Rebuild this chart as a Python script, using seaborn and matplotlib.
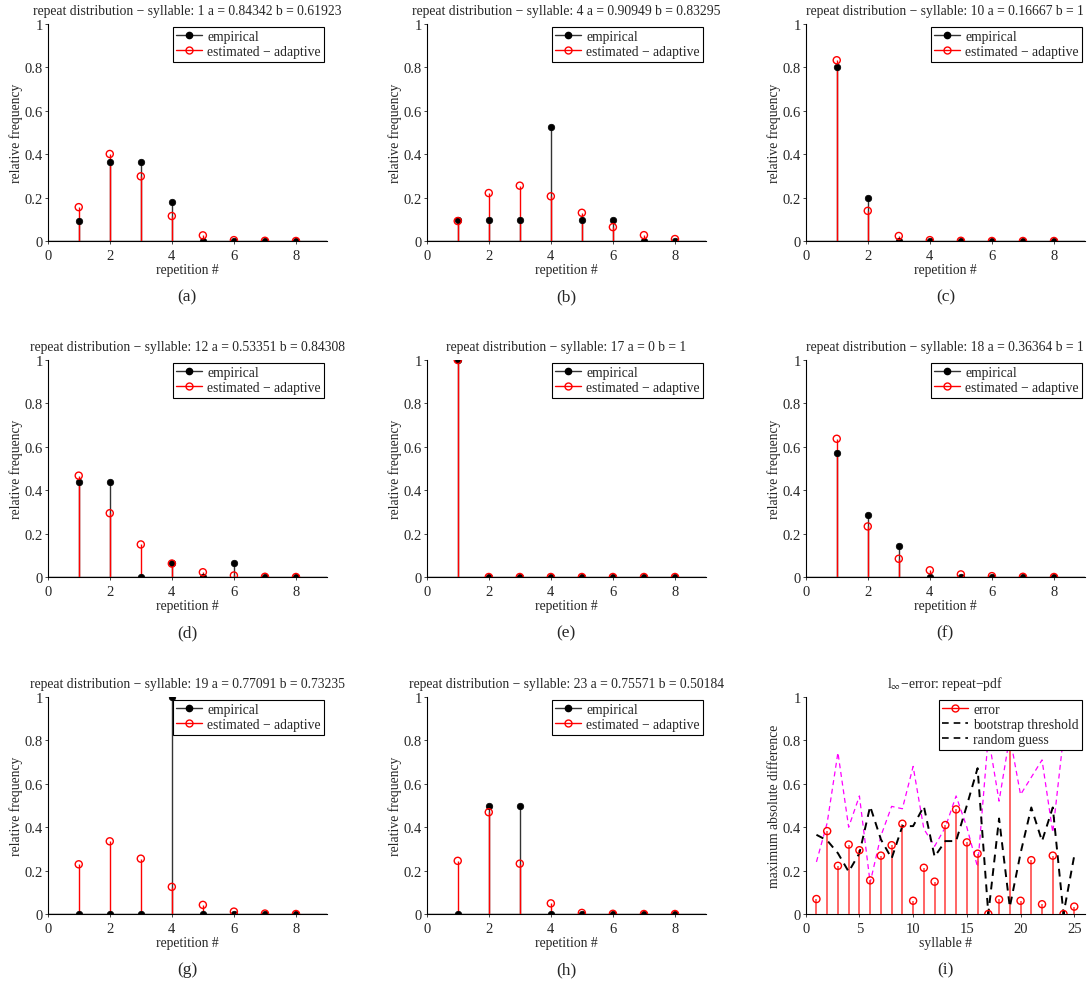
import numpy as np
import pandas as pd
import matplotlib
matplotlib.use("Agg")
import matplotlib.pyplot as plt
import seaborn as sns
from matplotlib.lines import Line2D

# DONNEES
repetitions = [1, 2, 3, 4, 5, 6, 7, 8]

syllables = [1, 4, 10, 12, 17, 18, 19, 23]
a_vals = ["0.84342", "0.90949", "0.16667", "0.53351", "0", "0.36364", "0.77091", "0.75571"]
b_vals = ["0.61923", "0.83295", "1", "0.84308", "1", "1", "0.73235", "0.50184"]
captions = ["(a)", "(b)", "(c)", "(d)", "(e)", "(f)", "(g)", "(h)", "(i)"]

empirical = [
    [0.091, 0.364, 0.364, 0.182, 0, 0, 0, 0],
    [0.095, 0.095, 0.095, 0.524, 0.095, 0.095, 0, 0],
    [0.8, 0.2, 0, 0, 0, 0, 0, 0],
    [0.4375, 0.4375, 0, 0.0625, 0, 0.0625, 0, 0],
    [1.0, 0, 0, 0, 0, 0, 0, 0],
    [0.571, 0.286, 0.143, 0, 0, 0, 0, 0],
    [0, 0, 0, 1.0, 0, 0, 0, 0],
    [0, 0.5, 0.5, 0, 0, 0, 0, 0],
]
estimated = [
    [0.156, 0.401, 0.298, 0.115, 0.026, 0.004, 0.001, 0],
    [0.092, 0.221, 0.255, 0.206, 0.13, 0.064, 0.027, 0.009],
    [0.833, 0.139, 0.023, 0.004, 0.001, 0, 0, 0],
    [0.467, 0.294, 0.15, 0.062, 0.022, 0.007, 0.001, 0],
    [1.0, 0, 0, 0, 0, 0, 0, 0],
    [0.637, 0.233, 0.084, 0.031, 0.012, 0.004, 0.001, 0],
    [0.229, 0.335, 0.255, 0.125, 0.042, 0.011, 0.002, 0],
    [0.245, 0.469, 0.232, 0.049, 0.005, 0.001, 0, 0],
]

# panneau (i) : erreur l_inf
err_syll = list(range(1, 26))
err_vals = [0.069, 0.382, 0.222, 0.32, 0.294, 0.155, 0.269, 0.317, 0.416, 0.061,
            0.213, 0.149, 0.41, 0.482, 0.33, 0.278, 0.0, 0.067, 0.875, 0.061,
            0.248, 0.045, 0.269, 0.0, 0.034]
boot_vals = [0.365, 0.339, 0.28, 0.195, 0.28, 0.496, 0.344, 0.256, 0.405, 0.405,
             0.496, 0.264, 0.336, 0.336, 0.5, 0.672, 0.0, 0.44, 0.032, 0.28,
             0.491, 0.336, 0.491, 0.0, 0.269]
rand_syll = list(range(1, 25))
rand_vals = [0.24, 0.42, 0.744, 0.40, 0.544, 0.144, 0.36, 0.496, 0.485, 0.68,
             0.392, 0.312, 0.40, 0.544, 0.40, 0.216, 0.82, 0.52, 0.82, 0.55,
             0.63, 0.71, 0.376, 0.82]

# STYLE
sns.set_style("ticks")
plt.rcParams['font.family'] = ['Liberation Serif', 'DejaVu Serif']
plt.rcParams['mathtext.fontset'] = 'stix'
plt.rcParams['xtick.direction'] = 'out'
plt.rcParams['ytick.direction'] = 'out'
plt.rcParams['axes.linewidth'] = 0.8
plt.rcParams['legend.framealpha'] = 1.0

FS = 9.8  # taille du texte (titres, labels, légendes)

W, H = 1089, 987
fig = plt.figure(figsize=(W / 100, H / 100), dpi=100)

cols = [(47.7, 327), (426.7, 706), (805.7, 1085)]
rows = [(25, 242), (361, 578), (698, 915)]
cap_y = [297, 633, 970]


def make_axes(r, c):
    x0, x1 = cols[c]
    y0, y1 = rows[r]
    return fig.add_axes([x0 / W, (H - y1) / H, (x1 - x0) / W, (y1 - y0) / H])


def style_axes(ax):
    sns.despine(ax=ax)
    ax.set_ylim(0, 1)
    ax.set_yticks([0, 0.2, 0.4, 0.6, 0.8, 1])
    ax.set_yticklabels(["0", "0.2", "0.4", "0.6", "0.8", "1"])
    ax.tick_params(labelsize=10.5, length=2.5, width=0.6)
    ax.tick_params(axis="x", pad=3)
    ax.tick_params(axis="y", pad=1)
    for s in ax.spines.values():
        s.set_color("black")


def boxed_legend(ax, handles, labels):
    leg = ax.legend(handles, labels, loc="upper right", fontsize=FS,
                    frameon=True, fancybox=False, framealpha=1.0,
                    borderpad=0.25, labelspacing=0.15, handlelength=1.9,
                    handletextpad=0.4, borderaxespad=0.2)
    leg.get_frame().set_edgecolor("black")
    leg.get_frame().set_facecolor("white")
    leg.get_frame().set_linewidth(0.8)
    leg.set_zorder(10)
    return leg


legend_handles = [
    Line2D([], [], color="#333333", lw=1, marker="o", ms=4.5, mfc="black", mec="black"),
    Line2D([], [], color="red", lw=1, marker="o", ms=5, mfc="none", mec="red"),
]

for i in range(8):
    r, c = divmod(i, 3)
    ax = make_axes(r, c)
    df = pd.DataFrame({"rep": repetitions, "emp": empirical[i], "est": estimated[i]})
    ax.vlines(df["rep"], 0, df["emp"], color="#333333", lw=1, zorder=2)
    ax.vlines(df["rep"], 0, df["est"], color="red", lw=1, zorder=3)
    sns.scatterplot(data=df, x="rep", y="emp", ax=ax, color="black", s=22,
                    edgecolor="black", linewidth=0.5, zorder=4, legend=False)
    sns.scatterplot(data=df, x="rep", y="est", ax=ax, facecolor="none", s=26,
                    edgecolor="red", linewidth=1, zorder=5, legend=False)
    ax.axhline(0, color="black", lw=1, zorder=1)
    ax.set_xlim(0, 9)
    ax.set_xticks([0, 2, 4, 6, 8])
    style_axes(ax)
    ax.set_xlabel("repetition #", fontsize=FS, labelpad=1)
    ax.set_ylabel("relative frequency", fontsize=FS, labelpad=1)
    ax.set_title(f"repeat distribution \u2212 syllable: {syllables[i]} a = {a_vals[i]} b = {b_vals[i]}",
                 fontsize=FS, pad=7)
    boxed_legend(ax, legend_handles, ["empirical", "estimated \u2212 adaptive"])

# panneau (i)
ax = make_axes(2, 2)
err_df = pd.DataFrame({"syll": err_syll, "err": err_vals, "boot": boot_vals})
rand_df = pd.DataFrame({"syll": rand_syll, "rand": rand_vals})
ax.vlines(err_df["syll"], 0, err_df["err"], color="#ff3b3b", lw=1.1, zorder=3)
sns.scatterplot(data=err_df, x="syll", y="err", ax=ax, facecolor="none", s=26,
                edgecolor="red", linewidth=1, zorder=5, legend=False)
sns.lineplot(data=rand_df, x="syll", y="rand", ax=ax, color="magenta",
             lw=0.9, dashes=(4, 3), zorder=2)
sns.lineplot(data=err_df, x="syll", y="boot", ax=ax, color="black",
             lw=1.4, dashes=(4, 3), zorder=4)
ax.set_xlim(0, 26)
ax.set_xticks([0, 5, 10, 15, 20, 25])
style_axes(ax)
ax.set_xlabel("syllable #", fontsize=FS, labelpad=1)
ax.set_ylabel("maximum absolute difference", fontsize=FS, labelpad=1)
ax.set_title("l$_\\infty$\u2212error: repeat\u2212pdf", fontsize=FS, pad=7)
handles_i = [
    Line2D([], [], color="red", lw=1, marker="o", ms=5, mfc="none", mec="red"),
    Line2D([], [], color="black", lw=1.2, dashes=(4, 3)),
    Line2D([], [], color="black", lw=1.2, dashes=(4, 3)),
]
boxed_legend(ax, handles_i, ["error", "bootstrap threshold", "random guess"])

# légendes (a)...(i)
for i, cap in enumerate(captions):
    r, c = divmod(i, 3)
    xc = (cols[c][0] + cols[c][1]) / 2
    fig.text(xc / W, 1 - cap_y[r] / H, cap, ha="center", va="center", fontsize=12.5)

fig.savefig("out.png", dpi=100)
